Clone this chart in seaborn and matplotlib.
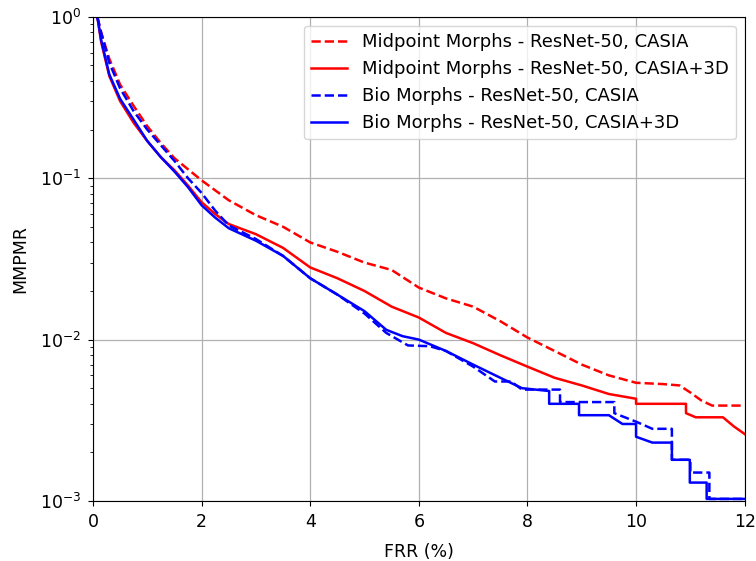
import numpy as np
import pandas as pd
import seaborn as sns
import matplotlib
matplotlib.use("Agg")
import matplotlib.pyplot as plt

# values (FRR in %, MMPMR)
mid_casia_x = [0.08, 0.15, 0.3, 0.5, 0.75, 1.0, 1.25, 1.5, 2.0, 2.5, 3.0, 3.5, 4.0, 4.5, 5.0,
               5.5, 6.0, 6.5, 7.0, 7.5, 8.0, 8.5, 9.0, 9.5, 10.0, 10.5, 10.8, 11.0, 11.2, 11.4, 12.0]
mid_casia_y = [1.0, 0.8, 0.55, 0.38, 0.28, 0.21, 0.165, 0.133, 0.097, 0.073, 0.059, 0.05, 0.04,
               0.035, 0.03, 0.027, 0.021, 0.018, 0.016, 0.013, 0.0103, 0.0085, 0.007, 0.006,
               0.0054, 0.0053, 0.0052, 0.0047, 0.0042, 0.0039, 0.0039]

mid_3d_x = [0.08, 0.15, 0.3, 0.5, 0.75, 1.0, 1.25, 1.5, 1.75, 2.0, 2.25, 2.5, 3.0, 3.5, 4.0, 4.5,
            5.0, 5.5, 6.0, 6.5, 7.0, 7.5, 8.0, 8.5, 9.0, 9.5, 10.0, 10.0, 10.92, 10.92, 11.1,
            11.6, 11.8, 12.0]
mid_3d_y = [1.0, 0.7, 0.43, 0.3, 0.22, 0.17, 0.135, 0.112, 0.09, 0.071, 0.06, 0.052, 0.045, 0.037,
            0.028, 0.024, 0.02, 0.016, 0.0137, 0.011, 0.0095, 0.008, 0.0068, 0.0058, 0.0052,
            0.0046, 0.0043, 0.004, 0.004, 0.0035, 0.0033, 0.0033, 0.0029, 0.0026]

bio_casia_x = [0.08, 0.15, 0.3, 0.5, 0.75, 1.0, 1.25, 1.5, 1.75, 2.0, 2.25, 2.5, 3.0, 3.5, 4.0,
               4.5, 5.0, 5.4, 5.8, 6.2, 6.5, 7.0, 7.4, 7.7, 7.9, 8.6, 8.6, 9.6, 9.6, 10.0, 10.3,
               10.66, 10.66, 11.0, 11.0, 11.35, 11.35, 12.0]
bio_casia_y = [1.0, 0.8, 0.52, 0.36, 0.26, 0.2, 0.16, 0.128, 0.1, 0.081, 0.063, 0.051, 0.042,
               0.033, 0.024, 0.019, 0.0145, 0.011, 0.0092, 0.0091, 0.0085, 0.0068, 0.0055,
               0.0055, 0.0049, 0.0049, 0.0041, 0.0041, 0.0035, 0.0031, 0.0028, 0.0028, 0.0018,
               0.0018, 0.0015, 0.0015, 0.00103, 0.00103]

bio_3d_x = [0.08, 0.15, 0.3, 0.5, 0.75, 1.0, 1.25, 1.5, 1.75, 2.0, 2.25, 2.5, 3.0, 3.5, 4.0, 4.5,
            5.0, 5.4, 5.7, 6.0, 6.5, 7.0, 7.5, 7.9, 8.4, 8.4, 8.95, 8.95, 9.5, 9.75, 10.0, 10.0,
            10.3, 10.66, 10.66, 10.99, 10.99, 11.3, 11.3, 12.0]
bio_3d_y = [1.0, 0.72, 0.44, 0.31, 0.23, 0.17, 0.135, 0.11, 0.088, 0.068, 0.057, 0.049, 0.041,
            0.033, 0.024, 0.019, 0.015, 0.0115, 0.0105, 0.01, 0.0085, 0.007, 0.0058, 0.005,
            0.0048, 0.004, 0.004, 0.0034, 0.0034, 0.003, 0.003, 0.0025, 0.0023, 0.0023, 0.0018,
            0.0018, 0.0013, 0.0013, 0.00103, 0.00103]

series = [
    ("Midpoint Morphs - ResNet-50, CASIA", mid_casia_x, mid_casia_y, "red", "--"),
    ("Midpoint Morphs - ResNet-50, CASIA+3D", mid_3d_x, mid_3d_y, "red", "-"),
    ("Bio Morphs - ResNet-50, CASIA", bio_casia_x, bio_casia_y, "blue", "--"),
    ("Bio Morphs - ResNet-50, CASIA+3D", bio_3d_x, bio_3d_y, "blue", "-"),
]

fig = plt.figure(figsize=(7.56, 5.61), dpi=100)
ax = fig.add_axes([0.123, 0.107, 0.862, 0.863])

for label, xs, ys, color, ls in series:
    df = pd.DataFrame({"FRR": xs, "MMPMR": ys})
    sns.lineplot(data=df, x="FRR", y="MMPMR", ax=ax, color=color, linestyle=ls,
                 linewidth=1.8, label=label, estimator=None, sort=False)

ax.set_yscale("log")
ax.set_xlim(0, 12)
ax.set_ylim(1e-3, 1)
ax.grid(True, which="major", color="#b0b0b0", linewidth=0.9)
ax.set_xlabel("FRR (%)", fontsize=12.5, labelpad=9)
ax.set_ylabel("MMPMR", fontsize=12.5, labelpad=8)
ax.tick_params(labelsize=12.5, pad=5)
ax.legend(loc="upper right", fontsize=13, borderaxespad=0.5)

fig.savefig("out.png", dpi=100)
